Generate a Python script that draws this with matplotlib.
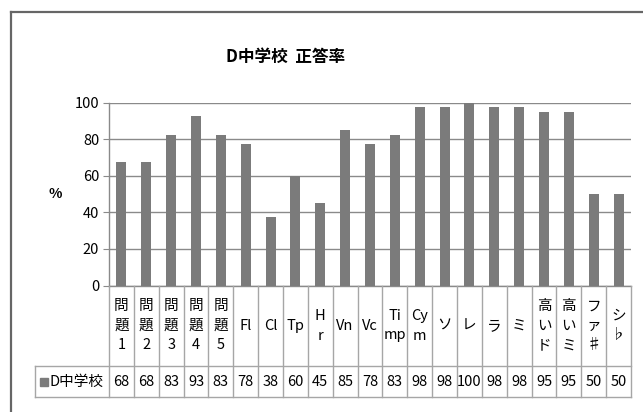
import matplotlib
matplotlib.use('Agg')
import matplotlib.pyplot as plt
from matplotlib.lines import Line2D
from matplotlib.patches import Rectangle

plt.rcParams['font.family'] = ['Noto Sans CJK JP', 'DejaVu Sans']

# category labels (wrapped as in the table) and correct-answer rates (%)
categories = ['問\n題\n1', '問\n題\n2', '問\n題\n3', '問\n題\n4', '問\n題\n5',
              'Fl', 'Cl', 'Tp', 'H\nr', 'Vn', 'Vc', 'Ti\nmp', 'Cy\nm',
              'ソ', 'レ', 'ラ', 'ミ', '高\nい\nド', '高\nい\nミ', 'フ\nァ\n♯', 'シ\n♭']
rates = [67.5, 67.5, 82.5, 92.5, 82.5, 77.5, 37.5, 60, 45, 85, 77.5, 82.5,
         97.5, 97.5, 100, 97.5, 97.5, 95, 95, 50, 50]
series_name = 'D中学校'
title = 'D中学校  正答率'
yticks = [0, 20, 40, 60, 80, 100]

W, H = 643, 412
bar_color = '#7b7b7b'
grid_color = '#8a8a8a'
line_color = '#a6a6a6'

fig = plt.figure(figsize=(W / 100, H / 100), dpi=100)


def px_box(x0, y0, x1, y1):
    # pixel box (top-left origin) -> figure fraction rect
    return [x0 / W, 1 - y1 / H, (x1 - x0) / W, (y1 - y0) / H]


# outer chart border (the picture is a crop of a larger chart)
fig.add_artist(Line2D([10.5 / W, 10.5 / W], [0, 1 - 11.5 / H], transform=fig.transFigure,
                      color='#666666', lw=1.6))
fig.add_artist(Line2D([10.5 / W, 1], [1 - 11.5 / H, 1 - 11.5 / H], transform=fig.transFigure,
                      color='#666666', lw=1.6))

# plot area
plot_l, plot_r, plot_t, plot_b = 109, 631, 102.5, 285.5
n = len(categories)
unit = (plot_r - plot_l) / n

ax = fig.add_axes(px_box(plot_l, plot_t, plot_r, plot_b))
x = list(range(n))
ax.bar(x, rates, width=0.4, color=bar_color, zorder=3)
ax.set_xlim(-0.5, n - 0.5)
ax.set_ylim(0, 100)
ax.set_yticks(yticks)
ax.tick_params(axis='y', labelsize=10.5, length=4, color=grid_color, pad=3, labelcolor='#000000')
ax.set_xticks([])
ax.grid(axis='y', color=grid_color, lw=1, zorder=0)
for s in ['top', 'right']:
    ax.spines[s].set_visible(False)
ax.spines['left'].set_color(grid_color)
ax.spines['bottom'].set_color(grid_color)
ax.spines['left'].set_linewidth(1)
ax.spines['bottom'].set_linewidth(1)
ax.set_ylabel('%', rotation=0, fontsize=10, fontweight='bold', labelpad=14, va='center')

fig.text(286 / W, 1 - 57 / H, title, ha='center', va='center', fontsize=12, fontweight='bold')

# data table under the plot
tab_l, tab_r, tab_t, tab_b = 35, plot_r, plot_b, 397
row_split = 366
tax = fig.add_axes(px_box(tab_l, tab_t, tab_r, tab_b))
tax.set_xlim(-0.5 - (plot_l - tab_l) / unit, n - 0.5)
tax.set_ylim(tab_b, tab_t)
tax.axis('off')

lk = dict(color=line_color, lw=1, clip_on=False)
# vertical lines
for i in range(n + 1):
    xv = i - 0.5
    tax.plot([xv, xv], [tab_t, tab_b], **lk)
x_left = tax.get_xlim()[0]
# horizontal lines
tax.plot([x_left, n - 0.5], [row_split, row_split], **lk)
tax.plot([x_left, n - 0.5], [tab_b, tab_b], **lk)
tax.plot([x_left, x_left], [row_split, tab_b], **lk)

row_mid = (row_split + tab_t) / 2
val_mid = (row_split + tab_b) / 2
for i, (c, v) in enumerate(zip(categories, rates)):
    tax.text(i, row_mid, c, ha='center', va='center', fontsize=10.5, linespacing=1.5)
    tax.text(i, val_mid, str(int(v + 0.5)), ha='center', va='center', fontsize=10.5)

# legend key in the first cell
key_x = x_left + 5 / unit
tax.add_patch(Rectangle((key_x, val_mid - 4), 8 / unit, 8, color=bar_color, clip_on=False))
tax.text(key_x + 9 / unit, val_mid, series_name, ha='left', va='center', fontsize=10.5)

fig.savefig('out.png', dpi=100)
